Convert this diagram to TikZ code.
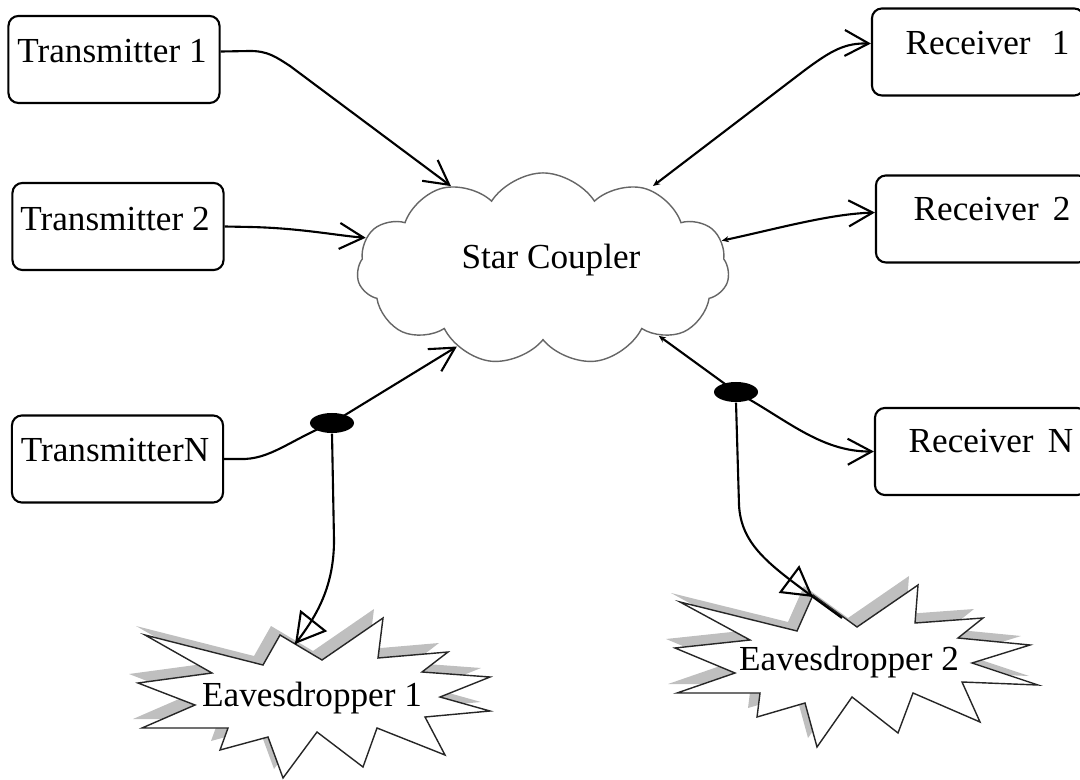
\documentclass[tikz,border=0pt]{standalone}
\usepackage{fontspec}
\setmainfont{Liberation Serif}
\usetikzlibrary{shapes.geometric,shapes.symbols,arrows.meta,decorations.markings,calc}

\tikzset{
  unitbox/.style={draw, line width=0.6pt, rounded corners=0.1cm,
    minimum width=2.11cm, minimum height=0.87cm, inner sep=0pt},
  lbl/.style={font=\fontsize{10pt}{12pt}\selectfont, inner sep=0pt},
  conn/.style={line width=0.6pt, line join=round},
  barb/.style={-{Straight Barb[length=0.24cm,width=0.26cm]}},
  bibarb/.style={{Stealth[length=0.07cm,width=0.06cm]}-{Straight Barb[length=0.24cm,width=0.26cm]}},
  tap/.style={ellipse, fill=black, minimum width=0.44cm, minimum height=0.2cm, inner sep=0pt},
  coupler/.style={cloud, draw=black!60, line width=0.4pt, cloud puffs=11,
    cloud puff arc=115, aspect=2, minimum width=3.72cm, minimum height=1.92cm, inner sep=0pt},
  burst/.style={fill=white, draw=black!85, line width=0.4pt, line join=miter},
  burstshadow/.style={fill=black!25},
  spytip/.style={postaction={decorate}, decoration={markings,
    mark=at position 1 with {\arrow{Triangle[open,length=0.3cm,width=0.34cm]}}}},
  eveA/.pic={\path[pic actions] (145,635) -- (263,665) -- (280,635) -- (322,660)
    -- (383,618) -- (378,658) -- (448,652) -- (422,672) -- (490,677) -- (440,697)
    -- (490,711) -- (425,717) -- (445,755) -- (377,728) -- (363,767) -- (317,732)
    -- (283,778) -- (268,737) -- (220,750) -- (228,728) -- (142,728) -- (195,705)
    -- (138,683) -- (212,673) -- cycle;},
  eveB/.pic={\path[pic actions] (680,602) -- (797,631) -- (813,595) -- (857,627)
    -- (918,585) -- (915,623) -- (983,618) -- (958,638) -- (1030,645) -- (972,663)
    -- (1038,685) -- (962,682) -- (980,722) -- (913,693) -- (898,733) -- (852,697)
    -- (817,747) -- (805,703) -- (757,717) -- (760,693) -- (677,693) -- (735,673)
    -- (675,648) -- (750,640) -- cycle;},
}

\begin{document}
\begin{tikzpicture}[x=0.01cm, y=-0.01cm]
\useasboundingbox (0,0) rectangle (1080,780);

% eavesdropper bursts with their drop shadows
\pic[burstshadow, shift={(-9,-9)}] at (0,0) {eveA};
\pic[burst] at (0,0) {eveA};
\pic[burstshadow, shift={(-9,-9)}] at (0,0) {eveB};
\pic[burst] at (0,0) {eveB};
\node[lbl, anchor=base] (e1l) at (312,706) {Eavesdropper 1};
\node[lbl, anchor=base] (e2l) at (849,670) {Eavesdropper 2};

% star coupler
\node[coupler] (sc) at (543,269) {};
\node[lbl, anchor=base] (scl) at (551,269) {Star Coupler};
\coordinate (scne) at ($(sc.center)+(110,-83)$);

% transmitters
\node[unitbox] (t1) at (114,59.5) {};
\node[lbl, anchor=base] (t1l) at (112,63) {Transmitter 1};
\node[unitbox] (t2) at (118,226.5) {};
\node[lbl, anchor=base] (t2l) at (115,231) {Transmitter 2};
\node[unitbox] (tn) at (117.5,459) {};
\node[lbl, anchor=base] (tnl) at (115,462) {TransmitterN};

% receivers
\node[unitbox, minimum width=2.12cm] (r1) at (978,52) {};
\node[lbl, anchor=base west] (r1l) at (905,55) {Receiver\hspace{6pt}1};
\node[unitbox, minimum width=2.12cm] (r2) at (982,219) {};
\node[lbl, anchor=base west] (r2l) at (913,221) {Receiver\hspace{4pt}2};
\node[unitbox, minimum width=2.12cm] (rn) at (981,451.5) {};
\node[lbl, anchor=base west] (rnl) at (908,453) {Receiver\hspace{4pt}N};

% tapping points
\node[tap] (d1) at (332,423) {};
\node[tap] (d2) at (736,392) {};
\coordinate (e1tip) at (295,644);
\coordinate (e2tip) at (813,597);
\coordinate (e2end) at (842,618);

% transmitter links
\draw[conn, barb] (t1.east |- t1l.center) -- (250,51)
  .. controls (268,51) and (276,57) .. (290,66) -- (sc.138);
\draw[conn, barb] (t2.east) -- (250,227)
  .. controls (300,228) and (340,236) .. (sc.170);
\draw[conn, barb] (tn.east) -- (240,459)
  .. controls (270,460) and (290,440) .. (d1.center) -- (sc.222);

% receiver links
\draw[conn, bibarb] (scne) -- (805,70)
  .. controls (832,50) and (845,43) .. (r1.west |- r1l.center);
\draw[conn, bibarb] (sc.9) .. controls (780,228) and (830,214)
  .. ($(r2.west |- r2l.center)+(0,3)$);
\draw[conn, bibarb] (sc.-30) -- (d2.center)
  .. controls (785,418) and (820,452) .. (rn.west);

% eavesdropping taps
\draw[conn, spytip] (d1.south) -- (334,540)
  .. controls (334,585) and (318,615) .. (e1tip);
\draw[conn, spytip] (d2.south) -- (739,505)
  .. controls (741,545) and (770,565) .. (e2tip);
\draw[conn] (e2tip) -- (e2end);
\end{tikzpicture}
\end{document}
